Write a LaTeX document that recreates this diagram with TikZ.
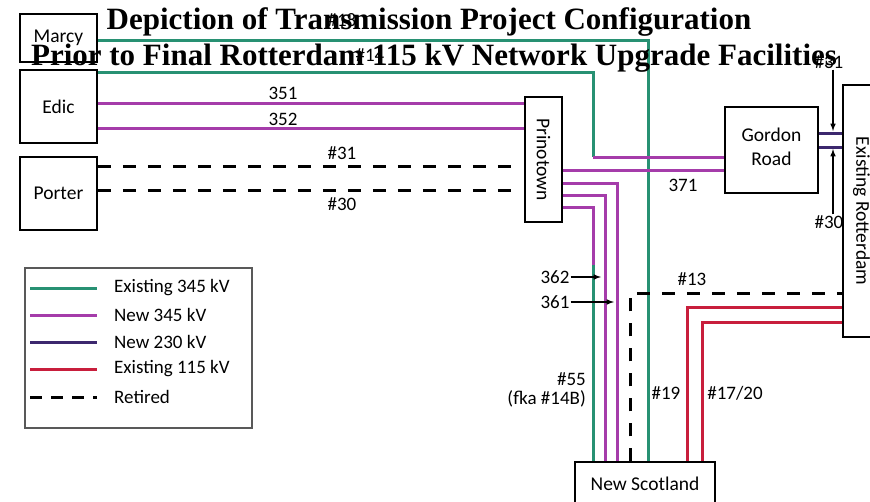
\documentclass[tikz,border=0pt]{standalone}
\usepackage{fontspec}
\setmainfont{Carlito}
\newfontfamily\titlefont{Liberation Serif}
\usepackage{graphicx}
\usetikzlibrary{positioning}

\definecolor{exteal}{RGB}{40,145,115}
\definecolor{newmag}{RGB}{165,60,170}
\definecolor{newnavy}{RGB}{60,40,110}
\definecolor{exred}{RGB}{200,30,60}

\tikzset{
  station/.style={draw, line width=1.5pt, inner sep=0pt, align=center, font=\fontsize{19.5}{28}\selectfont},
  lbl/.style={inner sep=1pt, align=center, font=\fontsize{19}{19}\selectfont},
  headline/.style={inner sep=0pt, font=\titlefont\bfseries\fontsize{31}{34}\selectfont},
  ex345/.style={draw=exteal, line width=3pt},
  new345/.style={draw=newmag, line width=3pt},
  new230/.style={draw=newnavy, line width=3pt},
  ex115/.style={draw=exred, line width=3pt},
  retired/.style={draw=black, line width=3pt, dash pattern=on 13pt off 12pt},
  pointer/.style={->, >=latex, line width=1.5pt}
}

\begin{document}
\begin{tikzpicture}[x=1pt, y=-1pt]
  \useasboundingbox (0,0) rectangle (870,501);

  % substations
  \node at (58.5,38) [station, minimum width=77pt, minimum height=48pt] (marcy) {\raisebox{4pt}{Marcy}};
  \node at (58.5,106.5) [station, minimum width=77pt, minimum height=73pt] (edic) {Edic};
  \node at (58.5,193.5) [station, minimum width=77pt, minimum height=73pt] (porter) {Porter};
  \node at (543.5,159.5) [station, minimum width=37pt, minimum height=125pt] (prino) {\rotatebox{-90}{Prinotown}};
  \node at (771.5,150) [station, minimum width=93pt, minimum height=86pt] (gordon) {\raisebox{7pt}{\shortstack{Gordon\\[7pt]Road}}};
  \node at (861.5,211) [station, minimum width=37pt, minimum height=252pt] (rott) {\rotatebox{-90}{Existing Rotterdam}};
  \node at (645,484) [station, minimum width=140pt, minimum height=44pt] (nscot) {New Scotland};

  % helper points
  \coordinate (tap) at (593,157);
  \coordinate (swap) at (593,265);
  \coordinate (end31) at (512,166);
  \coordinate (end30) at (512,190);
  \coordinate (corner13) at (630,293);

  % existing 345 kV
  \draw[ex345] (marcy.east |- 0,40) -| (nscot.north -| 648,0);
  \draw[ex345] (edic.east |- 0,72) -| (tap);
  \draw[ex345] (swap) -- (nscot.north -| swap);

  % new 345 kV
  \draw[new345] (tap) -- (gordon.west |- tap);
  \draw[new345] (edic.east |- 0,103) -- (prino.west |- 0,103);
  \draw[new345] (edic.east |- 0,128) -- (prino.west |- 0,128);
  \draw[new345] (prino.east |- 0,170) -- (gordon.west |- 0,170);
  \draw[new345] (prino.east |- 0,183) -| (nscot.north -| 617,0);
  \draw[new345] (prino.east |- 0,195) -| (nscot.north -| 605,0);
  \draw[new345] (prino.east |- 0,207) -| (swap);

  % new 230 kV
  \draw[new230] (gordon.east |- 0,133) -- (rott.west |- 0,133);
  \draw[new230] (gordon.east |- 0,147) -- (rott.west |- 0,147);

  % existing 115 kV
  \draw[ex115] (rott.west |- 0,307) -| (nscot.north -| 687,0);
  \draw[ex115] (rott.west |- 0,322) -| (nscot.north -| 702,0);

  % retired
  \draw[retired] (porter.east |- end31) -- (end31);
  \draw[retired] (porter.east |- end30) -- (end30);
  \draw[retired] (nscot.north -| corner13) -- (corner13) -- (rott.west |- corner13);

  % line labels
  \node at (342,20) [lbl] (l18) {\#18};
  \node at (370,55) [lbl] (l14) {\#14};
  \node at (283,93) [lbl] (l351) {351};
  \node at (283,119) [lbl] (l352) {352};
  \node at (342,153) [lbl] (l31) {\#31};
  \node at (342,204) [lbl] (l30) {\#30};
  \node at (683,185) [lbl] (l371) {371};
  \node at (555,277) [lbl] (l362) {362};
  \node at (555,302) [lbl] (l361) {361};
  \node at (692,279) [lbl] (l13) {\#13};
  \node [lbl, align=right, anchor=east] at (587,390) (l55) {\#55\\(fka \#14B)};
  \node at (666,393) [lbl] (l19) {\#19};
  \node at (735,393) [lbl] (l1720) {\#17/20};
  \node at (829,62) [lbl] (lg31) {\#31};
  \node at (829,222) [lbl] (lg30) {\#30};

  \draw[pointer] (l362.east) -- (601,277);
  \draw[pointer] (l361.east) -- (614,302);
  \draw[pointer] (lg31.south -| 833,0) -- (833,131);
  \draw[pointer] (lg30.north -| 833,0) -- (833,149);

  % legend
  \node at (138.5,348) [draw=gray!70!black, line width=1.5pt, minimum width=227pt, minimum height=160pt] (legend) {};
  \draw[ex345] (30,288) -- (97,288);
  \draw[new345] (30,315) -- (97,315);
  \draw[new230] (30,342) -- (97,342);
  \draw[ex115] (30,369) -- (97,369);
  \draw[retired, dash pattern=on 12pt off 9pt] (30,397) -- (97,397);
  \node at (113,288) [lbl, anchor=west] (k1) {Existing 345 kV};
  \node at (113,315) [lbl, anchor=west] (k2) {New 345 kV};
  \node at (113,342) [lbl, anchor=west] (k3) {New 230 kV};
  \node at (113,369) [lbl, anchor=west] (k4) {Existing 115 kV};
  \node at (113,397) [lbl, anchor=west] (k5) {Retired};

  % heading
  \node at (429,22) [headline] (head1) {Depiction of Transmission Project Configuration};
  \node at (434,58) [headline] (head2) {Prior to Final Rotterdam 115 kV Network Upgrade Facilities};
\end{tikzpicture}
\end{document}
